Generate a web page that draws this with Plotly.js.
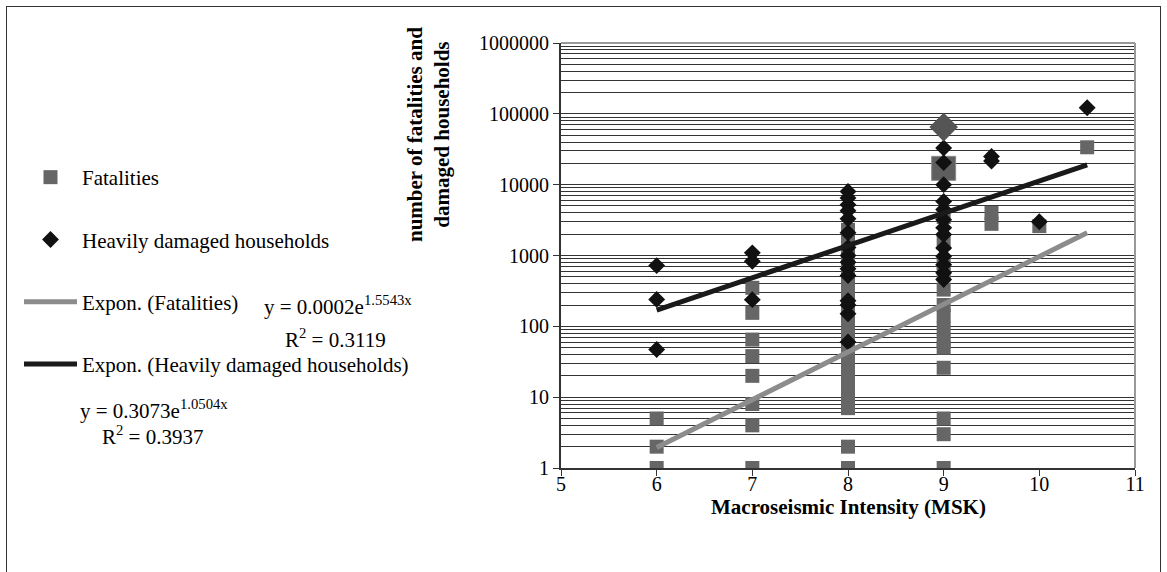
<!DOCTYPE html>
<html>
<head>
<meta charset="utf-8">
<script src="https://cdn.plot.ly/plotly-3.0.1.min.js"></script>
<style>
  html, body { margin: 0; padding: 0; background: #fff; }
  #wrap { position: relative; width: 1167px; height: 572px; }
  #chart { width: 1167px; height: 572px; }
  #frame { position: absolute; left: 6px; top: 6px; width: 1155px; height: 580px;
           border: 1.5px solid #333; pointer-events: none; box-sizing: border-box; }
</style>
</head>
<body>
<div id="wrap">
  <div id="chart"></div>
  <div id="frame"></div>
</div>
<script>
// ---- Data ----
const fatalIntensity = [6, 6, 6,
  7, 7, 7, 7, 7, 7, 7, 7,
  8, 8, 8, 8, 8, 8, 8, 8, 8, 8, 8, 8, 8, 8, 8, 8, 8, 8,
  9, 9, 9, 9, 9, 9, 9, 9, 9, 9, 9, 9, 9, 9,
  9.5, 9.5, 10, 10.5];
const fatalities = [1, 2, 5,
  1, 4, 8, 20, 38, 65, 155, 350,
  1, 2, 7, 10, 14, 20, 30, 45, 65, 90, 130, 200, 300, 450, 700, 1100, 1600, 2300,
  1, 3, 5, 26, 50, 61, 93, 142, 200, 330, 540, 800, 1500, 3500,
  2800, 4000, 2600, 33700];

const houseIntensity = [6, 6, 6,
  7, 7, 7,
  8, 8, 8, 8, 8, 8, 8, 8, 8, 8, 8, 8, 8, 8, 8,
  9, 9, 9, 9, 9, 9, 9, 9, 9, 9, 9, 9, 9,
  9.5, 9.5, 10, 10.5];
const households = [47, 240, 720,
  238, 830, 1090,
  60, 150, 200, 230, 520, 650, 800, 1000, 1300, 2100, 3300, 4300, 5200, 6500, 8000,
  457, 570, 740, 975, 1280, 1980, 2460, 3200, 4450, 5800, 10000, 20500, 33000,
  21500, 25000, 3000, 122000];

// highlighted (enlarged) points
const highlightFatalX = [9];
const highlightFatalY = [17000];
const highlightHouseX = [9];
const highlightHouseY = [65000];

// exponential trend lines, end points as drawn
const trendX = [6, 10.5];
const trendFatal = [1.95, 2100];
const trendHouse = [170, 19000];

const xTicks = [5, 6, 7, 8, 9, 10, 11];
const yTicks = [1, 10, 100, 1000, 10000, 100000, 1000000];

const eqFatal = 'y = 0.0002e<sup>1.5543x</sup>';
const r2Fatal = 'R<sup>2</sup> = 0.3119';
const eqHouse = 'y = 0.3073e<sup>1.0504x</sup>';
const r2House = 'R<sup>2</sup> = 0.3937';
const xTitle = '<b>Macroseismic Intensity (MSK)</b>';
const yTitle = '<b>number of fatalities and<br>damaged households</b>';

// ---- Layout helpers ----
const W = 1167, H = 572;
const L = 561, R = 32, T = 43, B = 104;
const pw = W - L - R, ph = H - T - B;
const px = x => (x - L) / pw;
const py = y => (H - B - y) / ph;
const FONT = 'Liberation Serif, Times New Roman, serif';

const traces = [
  { type: 'scatter', mode: 'markers', name: 'Fatalities', legendgroup: 'a',
    x: fatalIntensity, y: fatalities,
    marker: { symbol: 'square', size: 14, color: '#666666' } },
  { type: 'scatter', mode: 'markers', showlegend: false, hoverinfo: 'skip',
    x: highlightFatalX, y: highlightFatalY,
    marker: { symbol: 'square', size: 24, color: '#5e5e5e', line: { color: '#8a8a8a', width: 1 } } },
  { type: 'scatter', mode: 'markers', name: 'Heavily damaged households', legendgroup: 'b',
    x: houseIntensity, y: households,
    marker: { symbol: 'diamond', size: 13, color: '#111111' } },
  { type: 'scatter', mode: 'markers', showlegend: false, hoverinfo: 'skip',
    x: highlightHouseX, y: highlightHouseY,
    marker: { symbol: 'diamond', size: 22, color: '#555555' } },
  { type: 'scatter', mode: 'lines', name: 'Expon. (Fatalities)', legendgroup: 'c',
    x: trendX, y: trendFatal,
    line: { color: '#8c8c8c', width: 5 } },
  { type: 'scatter', mode: 'lines', name: 'Expon. (Heavily damaged households)', legendgroup: 'd',
    x: trendX, y: trendHouse,
    line: { color: '#1a1a1a', width: 5 } }
];

const annFont = { family: FONT, size: 21, color: '#000' };
const layout = {
  width: W, height: H,
  margin: { l: L, r: R, t: T, b: B, pad: 0 },
  paper_bgcolor: '#fff', plot_bgcolor: '#fff',
  font: { family: FONT, size: 20, color: '#000' },
  showlegend: true,
  legend: {
    x: px(19), y: py(157), xanchor: 'left', yanchor: 'top',
    traceorder: 'grouped', tracegroupgap: 32, itemwidth: 53,
    bgcolor: 'rgba(0,0,0,0)', font: { family: FONT, size: 21, color: '#000' }
  },
  xaxis: {
    type: 'linear', range: [5, 11], tickvals: xTicks, ticktext: xTicks.map(String),
    showgrid: false, zeroline: false,
    showline: true, linecolor: '#333', linewidth: 2,
    ticks: 'outside', ticklen: 6, tickcolor: '#333', tickwidth: 1,
    ticklabelstandoff: -9,
    tickfont: { family: FONT, size: 20, color: '#000' }
  },
  yaxis: {
    type: 'log', range: [0, 6], tickvals: yTicks, ticktext: yTicks.map(String),
    showgrid: true, gridcolor: '#333', gridwidth: 1,
    minor: { dtick: 'D1', showgrid: true, gridcolor: '#333', gridwidth: 1, ticks: '' },
    zeroline: false, showline: true, linecolor: '#333', linewidth: 2,
    ticks: 'outside', ticklen: 6, tickcolor: '#333', tickwidth: 1,
    tickfont: { family: FONT, size: 20, color: '#000' }
  },
  shapes: [
    { type: 'line', xref: 'paper', yref: 'paper', x0: 0, x1: 1, y0: 1, y1: 1,
      line: { color: '#999', width: 2 } },
    { type: 'line', xref: 'paper', yref: 'paper', x0: 1, x1: 1, y0: 0, y1: 1,
      line: { color: '#999', width: 2 } }
  ],
  annotations: [
    { xref: 'paper', yref: 'paper', x: 0.5, y: py(507), xanchor: 'center', yanchor: 'middle',
      showarrow: false, text: xTitle, font: { family: FONT, size: 21, color: '#000' } },
    { xref: 'paper', yref: 'paper', x: px(428), y: py(135), xanchor: 'center', yanchor: 'middle',
      textangle: -90, showarrow: false, align: 'center',
      text: yTitle, font: { family: FONT, size: 21, color: '#000' } },
    { xref: 'paper', yref: 'paper', x: px(262), y: py(305), xanchor: 'left', yanchor: 'middle',
      showarrow: false, text: eqFatal, font: annFont },
    { xref: 'paper', yref: 'paper', x: px(283), y: py(338), xanchor: 'left', yanchor: 'middle',
      showarrow: false, text: r2Fatal, font: annFont },
    { xref: 'paper', yref: 'paper', x: px(78), y: py(409), xanchor: 'left', yanchor: 'middle',
      showarrow: false, text: eqHouse, font: annFont },
    { xref: 'paper', yref: 'paper', x: px(100), y: py(435), xanchor: 'left', yanchor: 'middle',
      showarrow: false, text: r2House, font: annFont }
  ]
};

Plotly.newPlot('chart', traces, layout, { displayModeBar: false, staticPlot: true });
</script>
</body>
</html>
